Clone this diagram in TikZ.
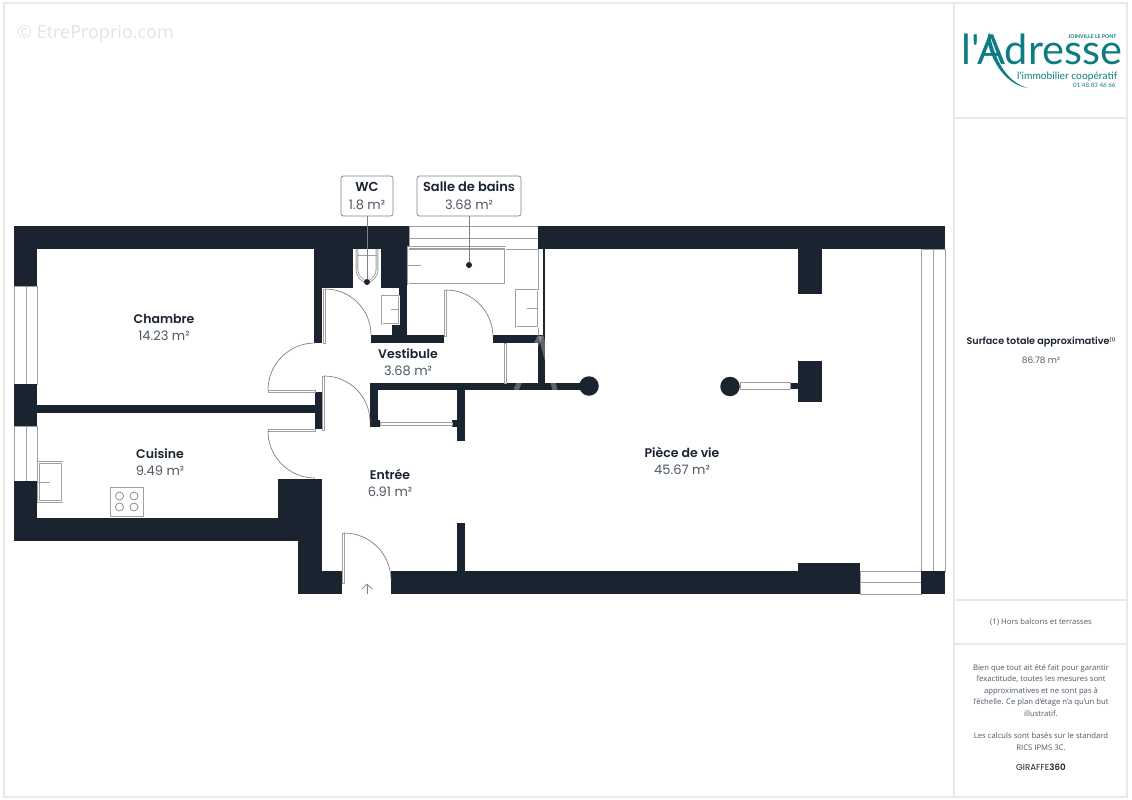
\documentclass[tikz,border=0pt]{standalone}
\usepackage{fontspec}
\setmainfont{Open Sans}
\newfontfamily\namefont[BoldFont={Poppins SemiBold}]{Poppins}
\newfontfamily\logofont{Lato}
\usetikzlibrary{positioning,arrows.meta}
\definecolor{wallcol}{HTML}{1A2330}
\definecolor{areacol}{HTML}{4E5864}
\definecolor{linecol}{HTML}{A0A0A0}
\definecolor{framecol}{HTML}{E9E9E9}
\definecolor{logocol}{HTML}{0E7C83}
\tikzset{
	wall/.style={fill=wallcol},
	fixture/.style={draw=linecol,line width=0.9pt,double=white,double distance=0.9pt},
	tapline/.style={draw=linecol,line width=0.8pt},
	glass/.style={draw=linecol,fill=white,line width=0.9pt},
	leaf/.style={draw=linecol,fill=white,line width=0.9pt},
	swing/.style={draw=gray,line width=0.7pt},
	dot/.style={circle,fill=wallcol,inner sep=0pt,minimum size=6pt},
	pillar/.style={circle,fill=wallcol,inner sep=0pt,minimum size=19.5pt},
	roomname/.style={inner sep=0pt,text=wallcol,font=\namefont\bfseries\fontsize{12.5}{14}\selectfont},
	roomarea/.style={inner sep=0pt,text=areacol,font=\namefont\fontsize{13}{14}\selectfont},
	tagbox/.style={draw=gray,rounded corners=2.5pt,line width=0.7pt,fill=white,minimum height=40pt,align=center,inner sep=0pt,font=\namefont\fontsize{13}{18}\selectfont},
	sidetext/.style={text=areacol,align=center,inner sep=0pt,font=\fontsize{7.7}{11.6}\selectfont},
	logotext/.style={text=logocol,inner sep=0pt,anchor=base west},
}
\begin{document}
\begin{tikzpicture}[x=1pt,y=-1pt]
	\useasboundingbox (0,0) rectangle (1132,800);
	\draw[framecol,line width=1.5pt] (4,3) rectangle (1127,797);
	\draw[framecol,line width=1.2pt] (954,3) -- (954,797);
	\draw[framecol,line width=1.2pt] (954,118) -- (1127,118);
	\draw[framecol,line width=1.2pt] (954,600) -- (1127,600);
	\draw[framecol,line width=1.2pt] (954,644) -- (1127,644);
	\node[text=gray!22,anchor=west,inner sep=0pt,font=\fontsize{18}{20}\selectfont] (mark) at (17,34) {© EtreProprio.com};

	\draw[glass] (409,226) rectangle (538,249);
	\draw[linecol,line width=0.9pt] (409,238) -- (538,238);
	\draw[linecol,line width=0.9pt] (538,249) -- (538,336);
	\draw[glass] (14.5,286) rectangle (37,384);
	\draw[linecol,line width=0.9pt] (26,286) -- (26,384);
	\draw[glass] (14.5,426) rectangle (37,481);
	\draw[linecol,line width=0.9pt] (26,426) -- (26,481);
	\draw[glass] (921,249) rectangle (945,571);
	\draw[linecol,line width=0.9pt] (933,249) -- (933,571);
	\draw[glass] (860,571) rectangle (921,594);
	\draw[linecol,line width=0.9pt] (860,582.5) -- (921,582.5);

	\fill[wall] (14,226) rectangle (409,249);
	\fill[wall] (538,226) rectangle (945,249);
	\fill[wall] (14,226) rectangle (37,286);
	\fill[wall] (14,384) rectangle (37,426);
	\fill[wall] (14,481) rectangle (37,541);
	\fill[wall] (14,518) rectangle (322,541);
	\fill[wall] (37,405) rectangle (315,413);
	\fill[wall] (315,392) rectangle (322,429);
	\fill[wall] (278,479) rectangle (322,541);
	\fill[wall] (298,541) rectangle (322,594);
	\fill[wall] (298,571) rectangle (342,594);
	\fill[wall] (391,571) rectangle (860,594);
	\fill[wall] (798,563) rectangle (860,594);
	\fill[wall] (921,571) rectangle (945,594);
	\fill[wall] (314,249) rectangle (353,288);
	\fill[wall] (314,288) rectangle (322,343);
	\fill[wall] (381,249) rectangle (407,288);
	\fill[wall] (399,288) rectangle (407,336);
	\fill[wall] (392,325) rectangle (407,336);
	\fill[wall] (371,335) rectangle (444,343);
	\fill[wall] (493,335) rectangle (545,343);
	\fill[wall] (543,249) rectangle (545,336);
	\fill[wall] (538,343) rectangle (545,384);
	\fill[wall] (370,383) rectangle (582,390);
	\fill[wall] (370,390) rectangle (378,427);
	\fill[wall] (370,420) rectangle (380,427);
	\fill[wall] (457,390) rectangle (465,441);
	\fill[wall] (452,420) rectangle (457,427);
	\fill[wall] (457,523) rectangle (465,571);
	\fill[wall] (798,249) rectangle (822,294);
	\fill[wall] (798,361) rectangle (822,402);
	\fill[wall] (790,383) rectangle (798,389);
	\draw[white,opacity=0.3,line width=5pt] (540,336) -- (516,390);
	\draw[white,opacity=0.3,line width=5pt] (541,336) -- (555,390);

	\node[pillar] (pillarleft) at (589,386) {};
	\node[pillar] (pillarright) at (730,386.5) {};
	\draw[leaf] (740,382.5) rectangle (790,389.5);
	\draw[leaf] (504,343) rectangle (506,383);
	\draw[leaf] (380,422) rectangle (452,425);

	\draw[leaf] (323,289) rectangle (325,343);
	\draw[swing] (325,289) arc[start angle=90,end angle=0,radius=46pt];
	\draw[leaf] (444,290) rectangle (446,336);
	\draw[swing] (446,290) arc[start angle=90,end angle=0,radius=47pt];
	\draw[leaf] (268,390) rectangle (315,392);
	\draw[swing] (268,390) arc[start angle=180,end angle=90,radius=47pt];
	\draw[leaf] (322,376) rectangle (324,430);
	\draw[swing] (324,376) arc[start angle=90,end angle=0,radius=46pt];
	\draw[leaf] (268,429) rectangle (315,431);
	\draw[swing] (268,431) arc[start angle=180,end angle=270,radius=47pt];
	\draw[leaf] (342,533) rectangle (344,583);
	\draw[swing] (344,533) arc[start angle=90,end angle=0,radius=47pt];
	\node[inner sep=0pt] (entrybase) at (367,595) {};
	\node[inner sep=0pt] (entrytip) at (367,583) {};
	\draw[swing,-{Straight Barb[length=5pt,width=11pt]}] (entrybase) -- (entrytip);

	\draw[fixture] (408,247.5) rectangle (505,284);
	\draw[tapline] (408,265.5) -- (421,265.5);
	\draw[fixture] (516,290) rectangle (538,327);
	\draw[tapline] (527,308) -- (538,308);
	\draw[fixture] (382,296) rectangle (399,324);
	\draw[tapline] (391,309) -- (399,309);
	\draw[fixture] (38.5,462.5) rectangle (62,501.5);
	\draw[tapline] (38,482) -- (50,482);
	\draw[fixture] (357,249) -- (357,270) .. controls (357,276) and (362,281) .. (367,282) .. controls (372,281) and (377,276) .. (377,270) -- (377,249);
	\draw[tapline] (357,255) -- (377,255);
	\draw[draw=linecol,line width=0.8pt] (110,487) rectangle (143,516);
	\foreach \hx in {119.5,134}
		\foreach \hy in {496,507}
			\draw[draw=gray,line width=0.7pt] (\hx,\hy) circle[radius=4pt];

	\node[tagbox,minimum width=52pt] (wctag) at (367,196) {{\bfseries\color{wallcol}WC}\\{\color{areacol}1.8 m²}};
	\node[tagbox,minimum width=104pt] (bathtag) at (469,196) {{\bfseries\color{wallcol}Salle de bains}\\{\color{areacol}3.68 m²}};
	\node[dot] (wcdot) at (367,282) {};
	\node[dot] (bathdot) at (469,265) {};
	\draw[draw=gray,line width=0.7pt] (wctag) -- (wcdot);
	\draw[draw=gray,line width=0.7pt] (bathtag) -- (bathdot);

	\node[roomname] (chambre) at (164,319) {Chambre};
	\node[roomarea,below=7pt of chambre] (chambrearea) {14.23 m²};
	\node[roomname] (vestibule) at (408,354) {Vestibule};
	\node[roomarea,below=7pt of vestibule] (vestibulearea) {3.68 m²};
	\node[roomname] (cuisine) at (160,454) {Cuisine};
	\node[roomarea,below=7pt of cuisine] (cuisinearea) {9.49 m²};
	\node[roomname] (entree) at (390,474) {Entrée};
	\node[roomarea,below=7pt of entree] (entreearea) {6.91 m²};
	\node[roomname] (piece) at (682,452) {Pièce de vie};
	\node[roomarea,below=7pt of piece] (piecearea) {45.67 m²};

	\node[logotext,font=\logofont\fontsize{41.5}{44}\selectfont] (logomain) at (961,65) {l'Adresse};
	\fill[logocol] (989,32) .. controls (995,60) and (1006,82) .. (1028,88) .. controls (1008,85) and (993,66) .. (987,40) -- cycle;
	\node[logotext,font=\logofont\bfseries\fontsize{5.2}{6}\selectfont] (logotown) at (1068,39) {JOINVILLE LE PONT};
	\node[logotext,font=\logofont\fontsize{10.2}{11}\selectfont] (logotag) at (1017,79) {l'immobilier coopératif};
	\node[logotext,font=\logofont\fontsize{6.2}{7}\selectfont] (logotel) at (1073,87) {01 48 83 46 66};

	\node[inner sep=0pt,text=wallcol,font=\namefont\bfseries\fontsize{9.6}{11}\selectfont] (surface) at (1041,342) {Surface totale approximative\raisebox{3.5pt}{\fontsize{4.5}{5}\selectfont (1)}};
	\node[inner sep=0pt,text=areacol,font=\namefont\fontsize{8.9}{10}\selectfont,below=9pt of surface] (surfacearea) {86.78 m²};
	\node[sidetext] (note) at (1041,622) {(1) Hors balcons et terrasses};
	\node[sidetext,anchor=north] (disclaimer) at (1041,664) {Bien que tout ait été fait pour garantir\\l'exactitude, toutes les mesures sont\\approximatives et ne sont pas à\\l'échelle. Ce plan d'étage n'a qu'un but\\illustratif.\\[10.5pt]Les calculs sont basés sur le standard\\RICS IPMS 3C.};
	\node[inner sep=0pt,text=wallcol,font=\namefont\fontsize{8.7}{10}\selectfont] (brand) at (1041,767) {GIRAFFE\textbf{360}};
\end{tikzpicture}
\end{document}
